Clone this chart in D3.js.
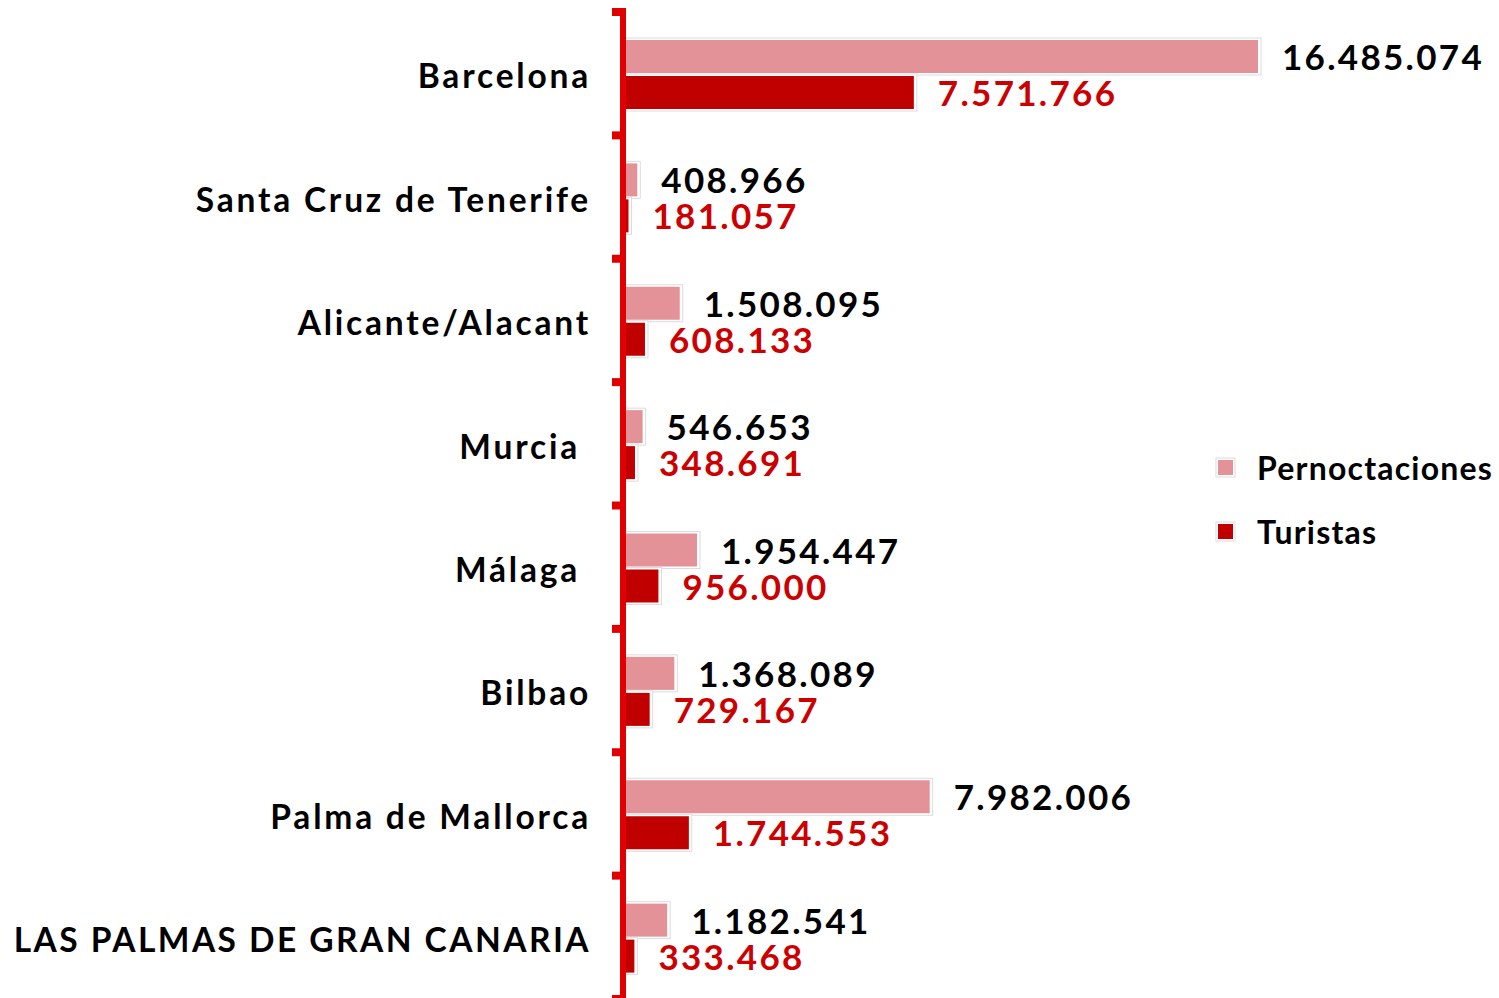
<!DOCTYPE html>
<html>
<head>
<meta charset="utf-8">
<script src="https://cdn.jsdelivr.net/npm/d3@7"></script>
<style>
  html, body { margin: 0; padding: 0; background: #fff; }
  svg text { font-family: Lato, "Open Sans", sans-serif; font-weight: 700; }
</style>
</head>
<body>
<svg id="chart" width="1499" height="998"></svg>
<script>
// Cities (top to bottom)
const categories = [
  "Barcelona",
  "Santa Cruz de Tenerife",
  "Alicante/Alacant",
  "Murcia ",
  "Málaga ",
  "Bilbao",
  "Palma de Mallorca",
  "LAS PALMAS DE GRAN CANARIA"
];
// Overnight stays per city
const pernoctaciones = [16485074, 408966, 1508095, 546653, 1954447, 1368089, 7982006, 1182541];
// Tourists per city
const turistas = [7571766, 181057, 608133, 348691, 956000, 729167, 1744553, 333468];
const seriesNames = ["Pernoctaciones", "Turistas"];

const colPern = "#e39298";
const colTur = "#c00000";
const colAxis = "#e00000";
const colRedText = "#cc0000";

const svg = d3.select("#chart");
const axisX = 623;

const y = d3.scaleBand()
  .domain(categories)
  .range([12, 999])
  .paddingInner(0).paddingOuter(0);

const x = d3.scaleLinear()
  .domain([0, 16485074])
  .range([621.5, 1258]);

const fmt = v => d3.format(",")(v).replace(/,/g, ".");

const barH = 33;
const offPern = 28;
const offTur = 64;

// bar with a light outline halo
function drawBar(g, cat, val, off, color) {
  const bx = x(0), by = y(cat) + off, bw = x(val) - x(0);
  g.append("rect")
    .attr("x", bx).attr("y", by - 2)
    .attr("width", bw + 3).attr("height", barH + 4)
    .attr("fill", "#fff").attr("stroke", "#dcdcdc").attr("stroke-width", 1);
  g.append("rect")
    .attr("x", bx).attr("y", by)
    .attr("width", bw).attr("height", barH)
    .attr("fill", color);
}

const bars = svg.append("g");
categories.forEach((c, i) => {
  drawBar(bars, c, pernoctaciones[i], offPern, colPern);
  drawBar(bars, c, turistas[i], offTur, colTur);
});

// value labels
const labels = svg.append("g").attr("font-size", 35).attr("letter-spacing", 2.3);
categories.forEach((c, i) => {
  labels.append("text")
    .attr("x", x(pernoctaciones[i]) + 24)
    .attr("y", y(c) + offPern + barH - 3)
    .attr("fill", "#000")
    .text(fmt(pernoctaciones[i]));
  labels.append("text")
    .attr("x", x(turistas[i]) + 24)
    .attr("y", y(c) + offTur + barH - 3)
    .attr("fill", colRedText)
    .text(fmt(turistas[i]));
});

// category axis
const axis = d3.axisLeft(y).tickSize(0).tickPadding(0).tickValues([]);
const ag = svg.append("g").attr("transform", `translate(${axisX},0)`).call(axis);
ag.select(".domain").remove();
ag.append("line")
  .attr("x1", 0).attr("x2", 0).attr("y1", 8).attr("y2", 998)
  .attr("stroke", colAxis).attr("stroke-width", 6);
const tickYs = categories.map(c => y(c)).concat([y(categories[categories.length - 1]) + y.bandwidth()]);
ag.selectAll("rect.tk").data(tickYs).join("rect")
  .attr("class", "tk")
  .attr("x", -11).attr("y", d => d - 4)
  .attr("width", 11).attr("height", 8)
  .attr("fill", colAxis);

// category names; all-caps names get slightly tighter tracking
svg.append("g").selectAll("text").data(categories).join("text")
  .attr("x", 591)
  .attr("y", d => y(d) + y.bandwidth() / 2 + 3)
  .attr("dy", "0.35em")
  .attr("text-anchor", "end")
  .attr("font-size", 33.5)
  .attr("letter-spacing", d => d === d.toUpperCase() ? 2.45 : 2.8)
  .attr("fill", "#000")
  .attr("xml:space", "preserve")
  .style("white-space", "pre")
  .text(d => d);

// legend
const legend = svg.append("g");
const legColors = [colPern, colTur];
seriesNames.forEach((n, i) => {
  const ly = 467 + i * 64;
  legend.append("rect")
    .attr("x", 1216).attr("y", ly - 9).attr("width", 19).attr("height", 19)
    .attr("fill", "#fff").attr("stroke", "#dcdcdc");
  legend.append("rect")
    .attr("x", 1218).attr("y", ly - 7).attr("width", 15).attr("height", 15)
    .attr("fill", legColors[i]);
  legend.append("text")
    .attr("x", 1257).attr("y", ly + 2)
    .attr("dy", "0.35em")
    .attr("font-size", 32)
    .attr("letter-spacing", 1.2)
    .attr("fill", "#000")
    .text(n);
});
</script>
</body>
</html>
